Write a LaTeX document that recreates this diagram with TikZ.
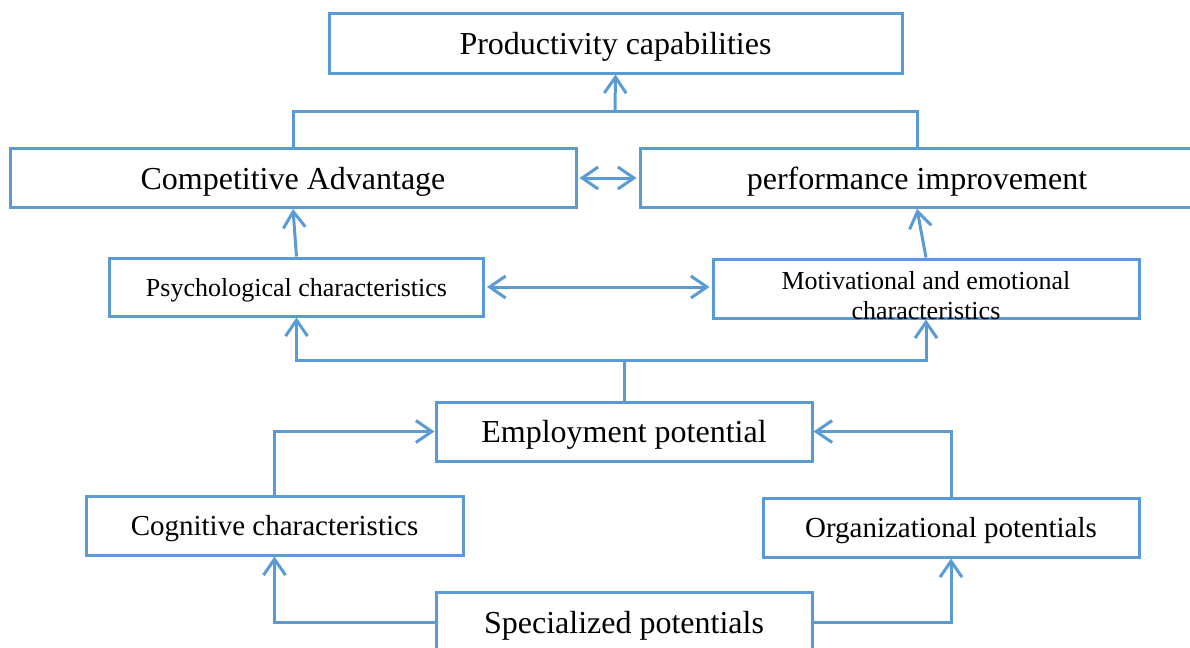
\documentclass[tikz,border=0pt]{standalone}
\usepackage{fontspec}
\setmainfont{Liberation Serif}
\usetikzlibrary{arrows.meta}

\definecolor{lineblue}{HTML}{5B9BD5}

\tikzset{
  box/.style={draw=lineblue,line width=1.5pt,rectangle,inner sep=0pt,
              align=center,text=black,text depth=0pt},
  conn/.style={draw=lineblue,line width=1.5pt},
  arr/.style={conn,-{Straight Barb[length=8pt,width=11pt,line width=1.5pt]}},
  arrs/.style={conn,{Straight Barb[length=8pt,width=11pt,line width=1.5pt]}-{Straight Barb[length=8pt,width=11pt,line width=1.5pt]}}
}

\begin{document}
\begin{tikzpicture}[x=0.5pt,y=-0.5pt]
			\useasboundingbox (0,0) rectangle (1190,648);
			\clip (0,0) rectangle (1190,648);

			% top row
			\node[box,minimum width=286.5pt,minimum height=30pt,font=\fontsize{16}{19}\selectfont] (prod) at (615.5,43) {Productivity capabilities};

			% second row
			\node[box,minimum width=283pt,minimum height=29.5pt,font=\fontsize{16}{19}\selectfont] (comp) at (293,178) {Competitive Advantage};
			\node[box,minimum width=277pt,minimum height=29.5pt,font=\fontsize{16}{19}\selectfont] (perf) at (917,178) {performance improvement};

			% characteristics
			\node[box,minimum width=187pt,minimum height=29pt,font=\fontsize{13}{15}\selectfont] (psych) at (296.5,287) {Psychological characteristics};
			\node[box,minimum width=213pt,minimum height=29.5pt,font=\fontsize{13}{15}\selectfont] (motiv) at (926,288.5)
				{\raisebox{2pt}{\begin{tabular}{@{}c@{}}Motivational and emotional\\characteristics\end{tabular}}};

			% potentials
			\node[box,minimum width=188pt,minimum height=29.5pt,font=\fontsize{16}{19}\selectfont] (employ) at (624,431.5) {Employment potential};
			\node[box,minimum width=188.5pt,minimum height=29.5pt,font=\fontsize{14.5}{17}\selectfont] (cogn) at (274.5,525.5) {Cognitive characteristics};
			\node[box,minimum width=188pt,minimum height=29.5pt,font=\fontsize{14.5}{17}\selectfont] (organ) at (951,527.5) {Organizational potentials};
			\node[box,minimum width=188pt,minimum height=30pt,font=\fontsize{16}{19}\selectfont] (spec) at (624,622) {Specialized potentials};

			% join points
			\coordinate (topjoin) at (615,111);
			\coordinate (midjoin) at (624,360);

			% to productivity
			\draw[conn] (comp.north) |- (topjoin) -| (perf.north);
			\draw[arr] (topjoin) -- (prod.south);

			% between the second row
			\draw[arrs,shorten <=1pt,shorten >=1pt] (comp.east) -- (perf.west);

			% characteristics up
			\draw[arr] (psych.north) -- (comp.south);
			\draw[arr] (motiv.north) -- (perf.south);
			\draw[arrs,shorten <=1pt,shorten >=1pt] (psych.east) -- (psych.east -| motiv.west);

			% employment potential up
			\draw[conn] (employ.north) -- (midjoin);
			\draw[arr] (midjoin) -| (psych.south);
			\draw[arr] (midjoin) -| (motiv.south);

			% into employment potential
			\draw[arr] (cogn.north) |- (employ.west);
			\draw[arr] (organ.north) |- (employ.east);

			% specialized potentials
			\draw[arr] (spec.west) -| (cogn.south);
			\draw[arr] (spec.east) -| (organ.south);
\end{tikzpicture}
\end{document}
